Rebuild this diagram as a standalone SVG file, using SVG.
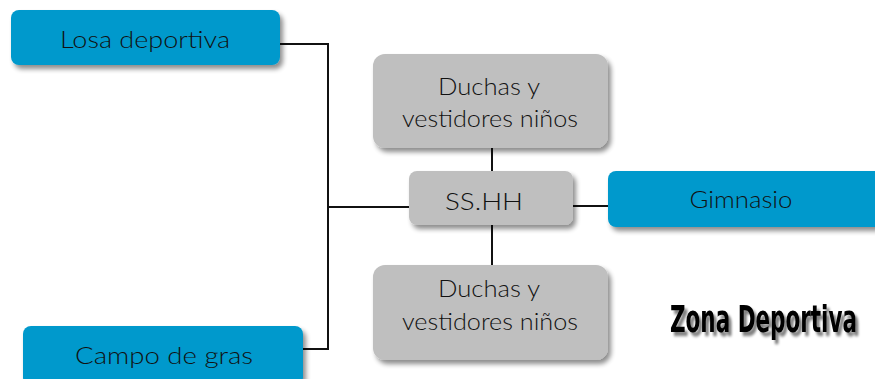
<svg xmlns="http://www.w3.org/2000/svg" width="875" height="379" viewBox="0 0 875 379">
<defs>
<filter id="sh" x="-10%" y="-20%" width="130%" height="160%">
<feGaussianBlur in="SourceAlpha" stdDeviation="2.5"/>
<feOffset dx="3" dy="4" result="b"/>
<feComponentTransfer><feFuncA type="linear" slope="0.45"/></feComponentTransfer>
<feMerge><feMergeNode/><feMergeNode in="SourceGraphic"/></feMerge>
</filter>
<filter id="tsh" x="-5%" y="-20%" width="110%" height="160%">
<feGaussianBlur in="SourceAlpha" stdDeviation="1.2"/>
<feOffset dx="3" dy="3" result="b"/>
<feComponentTransfer><feFuncA type="linear" slope="0.5"/></feComponentTransfer>
<feMerge><feMergeNode/><feMergeNode in="SourceGraphic"/></feMerge>
</filter>
</defs>
<style>
.blue{fill:#0099CC;filter:url(#sh)}
.gray{fill:#BFBFBF;filter:url(#sh)}
.t{font-family:Lato,"DejaVu Sans",sans-serif;font-weight:300;font-size:23px;fill:#111;text-anchor:middle}
.c{stroke:#111;stroke-width:2;fill:none}
.title{font-family:"DejaVu Sans Condensed","Liberation Sans Narrow",sans-serif;font-weight:bold;font-size:26px;fill:#000;filter:url(#tsh)}
</style>
<g id="connectors">
<polyline class="c" points="280,44 328,44 328,349 303,349"/>
<line class="c" x1="328" y1="207" x2="410" y2="207"/>
<line class="c" x1="573" y1="206" x2="608" y2="206"/>
<line class="c" x1="492" y1="148" x2="492" y2="171"/>
<line class="c" x1="492" y1="225" x2="492" y2="265"/>
</g>
<g id="losa">
<rect class="blue" x="11" y="10" width="269" height="55" rx="8"/>
<text class="t" x="145" y="48" textLength="170" lengthAdjust="spacingAndGlyphs">Losa deportiva</text>
</g>
<g id="campo">
<rect class="blue" x="23" y="326" width="280" height="60" rx="8"/>
<text class="t" x="164" y="364" textLength="178" lengthAdjust="spacingAndGlyphs">Campo de gras</text>
</g>
<g id="duchas1">
<rect class="gray" x="373" y="54" width="235" height="94" rx="12"/>
<text class="t" x="489" y="95" textLength="102" lengthAdjust="spacingAndGlyphs">Duchas y</text>
<text class="t" x="490" y="127" textLength="176" lengthAdjust="spacingAndGlyphs">vestidores niños</text>
</g>
<g id="sshh">
<rect class="gray" x="409" y="171" width="164" height="54" rx="8"/>
<text class="t" x="484" y="210" font-size="24" textLength="78" lengthAdjust="spacingAndGlyphs">SS.HH</text>
</g>
<g id="gimnasio">
<rect class="blue" x="608" y="171" width="275" height="56" rx="8"/>
<text class="t" x="741" y="208" textLength="103" lengthAdjust="spacingAndGlyphs">Gimnasio</text>
</g>
<g id="duchas2">
<rect class="gray" x="373" y="265" width="235" height="95" rx="12"/>
<text class="t" x="489" y="297" textLength="102" lengthAdjust="spacingAndGlyphs">Duchas y</text>
<text class="t" x="490" y="330" textLength="176" lengthAdjust="spacingAndGlyphs">vestidores niños</text>
</g>
<text class="title" transform="translate(670,332) scale(1,1.45)" x="0" y="0" textLength="187" lengthAdjust="spacingAndGlyphs">Zona Deportiva</text>
</svg>
